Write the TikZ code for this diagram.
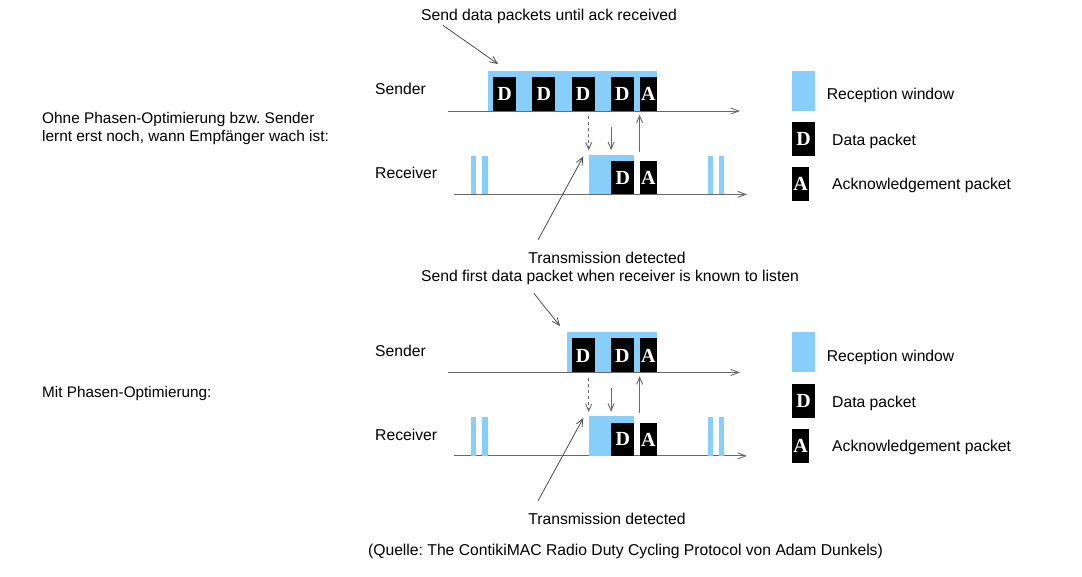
\documentclass[tikz,border=0pt]{standalone}
\usepackage{fontspec}
\setmainfont{Liberation Sans}
\newfontfamily\pktfont{Liberation Serif}
\usetikzlibrary{arrows.meta,positioning}
\definecolor{wincolor}{RGB}{135,206,250}
\definecolor{axiscolor}{RGB}{105,105,105}
\definecolor{ptrcolor}{RGB}{75,75,75}
\frenchspacing

\begin{document}
\begin{tikzpicture}[
    x=1pt, y=-1pt,
    lbl/.style={font=\fontsize{15.7}{17}\selectfont, inner sep=0pt, text height=11.2pt, text depth=0pt},
    capt/.style={font=\fontsize{15.4}{18}\selectfont, inner sep=0pt, anchor=west, align=left},
    pkt/.style={fill=black, text=white, inner sep=0pt, minimum width=23pt, minimum height=34pt, font=\pktfont\bfseries\fontsize{20}{20}\selectfont},
    apkt/.style={pkt, minimum width=17pt},
    win/.style={fill=wincolor},
    axis/.style={-{Straight Barb[length=8pt,width=6pt]}, axiscolor, line width=0.9pt},
    sig/.style={-{Straight Barb[length=7pt,width=6pt]}, axiscolor, line width=0.9pt},
    ptr/.style={-{Straight Barb[length=7.5pt,width=6.5pt]}, ptrcolor, line width=0.8pt}
]
    \useasboundingbox (0,0) rectangle (1082,577);

    % Left captions
    \node[capt] (cap1) at (42,128.6) {Ohne Phasen-Optimierung bzw. Sender\\lernt erst noch, wann Empf\"anger wach ist:};
    \node[lbl, font=\fontsize{15.3}{17}\selectfont, anchor=west] (cap2) at (42,392.2) {Mit Phasen-Optimierung:};

    % Sender row, without phase optimisation
    \fill[win] (487.7,71) rectangle (656.7,111);
    \foreach \x [count=\i] in {504.5,543.8,583.1,622.4}
        \node[pkt] (sd\i) at (\x,94) {D};
    \node[apkt] (sa) at (648.3,94) {A};

    % Sender row, with phase optimisation
    \fill[win] (566.7,332.5) rectangle (656.7,372.5);
    \node[pkt] (psd1) at (583.1,355.5) {D};
    \node[pkt] (psd2) at (622.4,355.5) {D};
    \node[apkt] (psa) at (648.3,355.5) {A};

    % Parts shared by both panels
    \foreach \dy/\p in {0/1, 261.5/2} {
        % row labels and time axes
        \node[lbl, anchor=west] (snd\p) at (375,89+\dy) {Sender};
        \node[lbl, anchor=west] (rcv\p) at (375,173+\dy) {Receiver};
        \draw[axis] (448,111+\dy) -- (740,111+\dy);
        \draw[axis] (454,194.4+\dy) -- (747,194.4+\dy);

        % receiver wake-ups
        \foreach \x in {470.8,482,707.8,718.8}
            \fill[win] (\x,155.7+\dy) rectangle ++(5.5,38.7);
        \fill[win] (588.7,154.7+\dy) rectangle (634.3,194.4+\dy);
        \node[pkt, minimum height=33pt] (rd\p) at (622.8,177.9+\dy) {D};
        \node[apkt, minimum height=33pt] (ra\p) at (648.3,177.9+\dy) {A};

        % sender <-> receiver
        \coordinate (dsh\p) at (588.7,116+\dy);
        \coordinate (dsh\p b) at (588.7,150.5+\dy);
        \draw[sig, dashed] (dsh\p) -- (dsh\p b);
        \draw[sig] ([yshift=34.5pt]rd\p.north west) -- ([yshift=11pt]rd\p.north west);
        \draw[sig] ([yshift=9.5pt]ra\p.north west) -- ([yshift=46.5pt]ra\p.north west);

        % legend
        \fill[win] (792.3,71+\dy) rectangle (815,111+\dy);
        \node[lbl, anchor=west] (lgw\p) at (826.7,94+\dy) {Reception window};
        \node[pkt] (lgd\p) at (803.5,139.3+\dy) {D};
        \node[lbl, anchor=west] at (832,140+\dy) {Data packet};
        \node[apkt] (lga\p) at (800.7,184+\dy) {A};
        \node[lbl, anchor=west] at (832,184+\dy) {Acknowledgement packet};
    }

    % Pointer texts
    \node[lbl] (untilack) at (549,15) {Send data packets until ack received};
    \coordinate (untilack tip) at (498,64);
    \draw[ptr] ([xshift=22pt,yshift=-4.5pt]untilack.south west) -- (untilack tip);

    \node[lbl] (det1) at (607,258) {Transmission detected};
    \coordinate (det1 tip) at (583.3,156.5);
    \draw[ptr] ([xshift=10pt,yshift=12.5pt]det1.north west) -- (det1 tip);

    \node[lbl] (first) at (610,276) {Send first data packet when receiver is known to listen};
    \coordinate (first tip) at (560,326);
    \draw[ptr] ([xshift=113pt,yshift=-11.5pt]first.south west) -- (first tip);

    \node[lbl] (det2) at (607,519) {Transmission detected};
    \coordinate (det2 tip) at (583.3,418);
    \draw[ptr] ([xshift=10pt,yshift=12.5pt]det2.north west) -- (det2 tip);

    % Source
    \node[lbl] (src) at (625.5,550) {(Quelle: The ContikiMAC Radio Duty Cycling Protocol von Adam Dunkels)};
\end{tikzpicture}
\end{document}
